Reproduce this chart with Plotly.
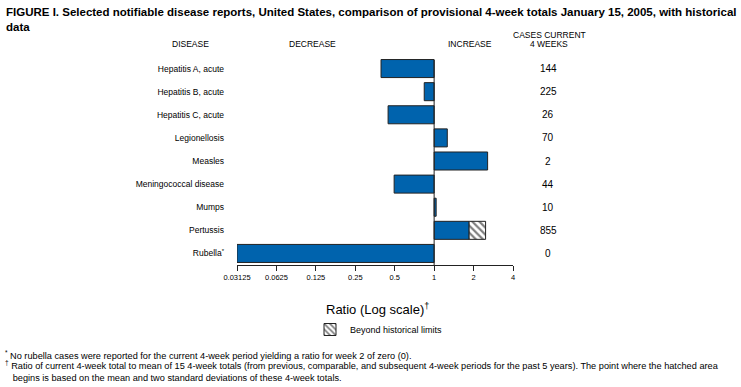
import plotly.graph_objects as go

diseases = ["Hepatitis A, acute", "Hepatitis B, acute", "Hepatitis C, acute",
            "Legionellosis", "Measles", "Meningococcal disease", "Mumps",
            "Pertussis", "Rubella<sup>*</sup>"]
ratios = [0.393, 0.84, 0.445, 1.26, 2.56, 0.495, 1.036, 1.85, 0.03125]
beyond_end = [None, None, None, None, None, None, None, 2.47, None]
cases = [144, 225, 26, 70, 2, 44, 10, 855, 0]
tick_vals = [0.03125, 0.0625, 0.125, 0.25, 0.5, 1, 2, 4]
tick_text = ["0.03125", "0.0625", "0.125", "0.25", "0.5", "1", "2", "4"]

W, H = 741, 387
L, R, T, B = 237, 513, 57, 265
FONT = "Liberation Sans"
BLUE = "#0063AD"

def px(x):
    return (x - L) / (R - L)

def py(y):
    return (B - y) / (B - T)

base = [min(r, 1) for r in ratios]
size = [abs(r - 1) for r in ratios]

fig = go.Figure()
fig.add_trace(go.Bar(
    y=diseases, x=size, base=base, orientation="h",
    marker=dict(color=BLUE, line=dict(color="#222222", width=1)),
    width=0.78, showlegend=False, hoverinfo="skip"))

hb, hs, hy = [], [], []
for d, r, e in zip(diseases, ratios, beyond_end):
    if e is not None:
        hy.append(d); hb.append(r); hs.append(e - r)
fig.add_trace(go.Bar(
    y=hy, x=hs, base=hb, orientation="h", name="Beyond historical limits",
    marker=dict(color="white", line=dict(color="#222222", width=1),
                pattern=dict(shape="\\", fgcolor="black", bgcolor="white", size=5, solidity=0.45)),
    width=0.78, showlegend=True, hoverinfo="skip"))

fig.add_shape(type="line", xref="x", yref="paper", x0=1, x1=1, y0=0, y1=py(60),
              line=dict(color="#222222", width=1))

ann = []
for d, c in zip(diseases, cases):
    ann.append(dict(x=px(548), y=d, xref="paper", yref="y", text=str(c), showarrow=False,
                    font=dict(size=10, color="black", family=FONT), xanchor="center"))

def txt(x, y, t, size=8, anchor="center", yanchor="middle"):
    ann.append(dict(x=px(x), y=py(y), xref="paper", yref="paper", text=t, showarrow=False,
                    font=dict(size=size, color="black", family=FONT), xanchor=anchor,
                    yanchor=yanchor, align="left"))

txt(4, 4, "<b>FIGURE I. Selected notifiable disease reports, United States, comparison of provisional 4-week totals January 15, 2005, with historical<br>data</b>",
    size=11.5, anchor="left", yanchor="top")
txt(190, 44, "DISEASE", 8.5)
txt(312, 44, "DECREASE", 8.5)
txt(470, 44, "INCREASE", 8.5)
txt(549, 35, "CASES CURRENT", 8.5)
txt(549, 44, "4 WEEKS", 8.5)
txt(377, 309, "Ratio (Log scale)<sup>†</sup>", size=13)
txt(3, 355, "<sup>*</sup> No rubella cases were reported for the current 4-week period yielding a ratio for week 2 of zero (0).", size=9.2, anchor="left")
txt(3, 371, "<sup>†</sup> Ratio of current 4-week total to mean of 15 4-week totals (from previous, comparable, and subsequent 4-week periods for the past 5 years). The point where the hatched area<br>   begins is based on the mean and two standard deviations of these 4-week totals.", size=9.2, anchor="left")

fig.update_layout(
    width=W, height=H,
    margin=dict(l=L, r=W - R, t=T, b=H - B, pad=0),
    paper_bgcolor="white", plot_bgcolor="white",
    barmode="overlay",
    font=dict(family=FONT, size=8, color="black"),
    xaxis=dict(type="log", range=[-1.50515, 0.60206], tickvals=tick_vals, ticktext=tick_text,
               showgrid=False, zeroline=False, showline=True, linecolor="#222222", linewidth=1,
               ticks="outside", ticklen=5, tickcolor="#222222", tickfont=dict(size=7.5)),
    yaxis=dict(autorange="reversed", showgrid=False, zeroline=False, showline=False,
               ticks="", tickfont=dict(size=8.5), ticklabelstandoff=12),
    legend=dict(orientation="h", x=px(310), y=py(315), xanchor="left", yanchor="top",
                font=dict(size=9), bgcolor="rgba(0,0,0,0)"),
    annotations=ann,
)
fig.write_html("out.html", config={"displayModeBar": False},
               post_script="document.body.style.margin='0';")
